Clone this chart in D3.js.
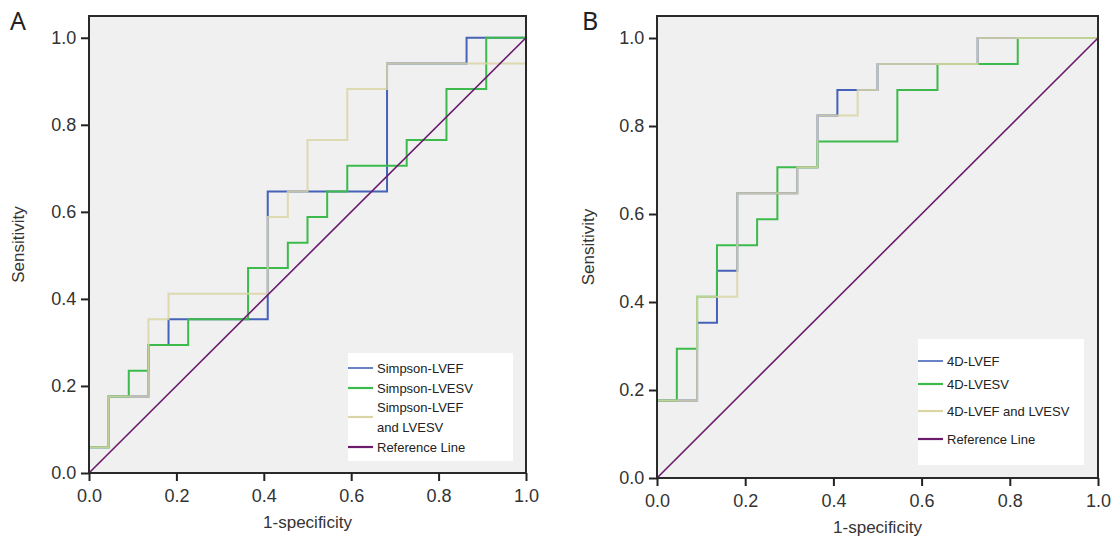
<!DOCTYPE html>
<html>
<head>
<meta charset="utf-8">
<script src="https://cdn.jsdelivr.net/npm/d3@7"></script>
<style>
  body { margin: 0; background: #fff; }
  svg { display: block; font-family: "Liberation Sans", Arial, sans-serif; }
</style>
</head>
<body>
<svg id="chart" width="1111" height="542"></svg>
<script>
// ROC corner points (1-specificity, sensitivity), drawn as step-after curves
const ticks = [0, 0.2, 0.4, 0.6, 0.8, 1.0];

// Panel A
const aLvefX  = [0, 0, 0.045, 0.136, 0.182, 0.409, 0.682, 0.864, 1];
const aLvefY  = [0, 0.059, 0.176, 0.294, 0.353, 0.647, 0.941, 1, 1];
const aLvesvX = [0, 0, 0.045, 0.091, 0.136, 0.227, 0.364, 0.455, 0.5, 0.545, 0.591, 0.727, 0.818, 0.909, 1];
const aLvesvY = [0, 0.059, 0.176, 0.235, 0.294, 0.353, 0.471, 0.529, 0.588, 0.647, 0.706, 0.765, 0.882, 1, 1];
const aBothX  = [0, 0, 0.045, 0.136, 0.182, 0.409, 0.455, 0.5, 0.591, 0.682, 1];
const aBothY  = [0, 0.059, 0.176, 0.353, 0.412, 0.588, 0.647, 0.765, 0.882, 0.941, 1];
const aNames  = ["Simpson-LVEF", "Simpson-LVESV", ["Simpson-LVEF", "and LVESV"], "Reference Line"];

// Panel B
const bLvefX  = [0, 0, 0.091, 0.136, 0.182, 0.318, 0.364, 0.409, 0.5, 0.727, 1];
const bLvefY  = [0, 0.176, 0.353, 0.471, 0.647, 0.706, 0.824, 0.882, 0.941, 1, 1];
const bLvesvX = [0, 0, 0.045, 0.091, 0.136, 0.227, 0.273, 0.364, 0.545, 0.636, 0.818, 1];
const bLvesvY = [0, 0.176, 0.294, 0.412, 0.529, 0.588, 0.706, 0.765, 0.882, 0.941, 1, 1];
const bBothX  = [0, 0, 0.091, 0.182, 0.318, 0.364, 0.455, 0.5, 0.727, 1];
const bBothY  = [0, 0.176, 0.412, 0.647, 0.706, 0.824, 0.882, 0.941, 1, 1];
const bNames  = ["4D-LVEF", "4D-LVESV", ["4D-LVEF and LVESV"], "Reference Line"];

const refX = [0, 1];
const refY = [0, 1];

const colors = ["#4562b8", "#3dba4c", "#d9d5a6", "#6b1b6e"];

const svg = d3.select("#chart");

function zip(xs, ys) { return xs.map((x, i) => [x, ys[i]]); }

function panel(cfg) {
  const x = d3.scaleLinear().domain([0, 1]).range([cfg.left, cfg.right]);
  const y = d3.scaleLinear().domain([0, 1.05]).range([cfg.bottom, cfg.top]);
  const g = svg.append("g");

  g.append("rect")
    .attr("x", x(0)).attr("y", y(1.05))
    .attr("width", x(1) - x(0)).attr("height", y(0) - y(1.05))
    .attr("fill", "#f0f0f0");

  const step = d3.line().x(d => x(d[0])).y(d => y(d[1])).curve(d3.curveStepAfter);
  cfg.series.forEach((s, i) => {
    g.append("path")
      .attr("d", step(zip(s[0], s[1])))
      .attr("fill", "none")
      .attr("stroke", colors[i])
      .attr("stroke-width", 2)
      .attr("opacity", i === 2 ? 0.85 : 1);
  });
  g.append("path")
    .attr("d", d3.line().x(d => x(d[0])).y(d => y(d[1]))(zip(refX, refY)))
    .attr("fill", "none").attr("stroke", colors[3]).attr("stroke-width", 1.6);

  // frame on top of the curves
  g.append("rect")
    .attr("x", x(0)).attr("y", y(1.05))
    .attr("width", x(1) - x(0)).attr("height", y(0) - y(1.05))
    .attr("fill", "none")
    .attr("stroke", "#2a2a2a").attr("stroke-width", 2);

  const xAxis = g.append("g")
    .attr("transform", `translate(0,${y(0)})`)
    .call(d3.axisBottom(x).tickValues(ticks).tickFormat(d3.format(".1f")).tickSize(8).tickSizeOuter(0));
  const yAxis = g.append("g")
    .attr("transform", `translate(${x(0)},0)`)
    .call(d3.axisLeft(y).tickValues(ticks).tickFormat(d3.format(".1f")).tickSize(8).tickSizeOuter(0));
  [xAxis, yAxis].forEach(a => {
    a.select(".domain").remove();
    a.selectAll(".tick line").attr("stroke", "#222").attr("stroke-width", 2);
    a.selectAll(".tick text").attr("fill", "#333").style("font-size", "18px");
  });
  xAxis.selectAll(".tick text").attr("dy", "1.0em");
  yAxis.selectAll(".tick text").attr("dx", "-0.1em");

  g.append("text")
    .attr("x", (x(0) + x(1)) / 2).attr("y", cfg.xTitleY)
    .attr("text-anchor", "middle").attr("fill", "#333").style("font-size", "17px")
    .text("1-specificity");
  g.append("text")
    .attr("transform", `translate(${cfg.yTitleX},${(y(0) + y(1.05)) / 2}) rotate(-90)`)
    .attr("text-anchor", "middle").attr("fill", "#333").style("font-size", "17px")
    .text("Sensitivity");
  g.append("text")
    .attr("x", cfg.letterX).attr("y", 30)
    .attr("fill", "#222").style("font-size", "25px")
    .style("font-family", "'Noto Sans', sans-serif")
    .text(cfg.letter);

  // legend
  const lg = g.append("g");
  lg.append("rect")
    .attr("x", cfg.legend.x).attr("y", cfg.legend.y)
    .attr("width", cfg.legend.w).attr("height", cfg.legend.h)
    .attr("fill", "#fff");
  cfg.names.forEach((n, i) => {
    const ly = cfg.legend.rows[i];
    lg.append("line")
      .attr("x1", cfg.legend.x).attr("x2", cfg.legend.x + 25)
      .attr("y1", ly).attr("y2", ly)
      .attr("stroke", colors[i]).attr("stroke-width", i === 0 ? 1.6 : 2.2);
    const lines = Array.isArray(n) ? n : [n];
    const t = lg.append("text")
      .attr("fill", "#222").style("font-size", "13px");
    lines.forEach((s, j) => {
      t.append("tspan")
        .attr("x", cfg.legend.x + 29)
        .attr("y", ly + 4.5 + (j - (lines.length - 1) / 2) * 20)
        .text(s);
    });
  });
}

panel({
  left: 89, right: 526, top: 16, bottom: 473,
  xTitleY: 528, yTitleX: 24, letter: "A", letterX: 10,
  series: [[aLvefX, aLvefY], [aLvesvX, aLvesvY], [aBothX, aBothY]],
  names: aNames,
  legend: { x: 348, y: 353, w: 165, h: 108, rows: [368, 388, 417, 447] }
});

panel({
  left: 657, right: 1098, top: 16, bottom: 478,
  xTitleY: 533, yTitleX: 594, letter: "B", letterX: 582,
  series: [[bLvefX, bLvefY], [bLvesvX, bLvesvY], [bBothX, bBothY]],
  names: bNames,
  legend: { x: 918, y: 339, w: 166, h: 126, rows: [361, 384, 411, 439] }
});
</script>
</body>
</html>
